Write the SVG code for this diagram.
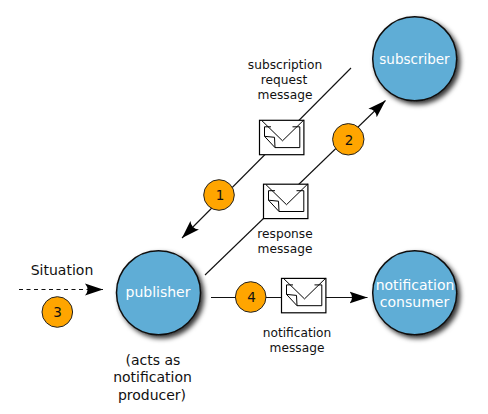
<svg xmlns="http://www.w3.org/2000/svg" width="488" height="414" viewBox="0 0 488 414">
<style>
text{font-family:"DejaVu Sans",sans-serif;text-anchor:middle}
.lbl{font-size:12.2px;fill:#111}
.big{font-size:14px;fill:#111}
.node{fill:#5fadd6;stroke:#111;stroke-width:1.5;filter:url(#sh)}
.nt{font-size:14px;fill:#fff}
.badge{fill:#ffa500;stroke:#222;stroke-width:1}
.bt{font-size:13.500px;fill:#111}
.ln{fill:none;stroke:#111;stroke-width:1.1}
.env{fill:#fff;stroke:#000;stroke-width:1.2}
.envl{fill:none;stroke:#000;stroke-width:1}
</style>
<defs>
<filter id="sh" x="-30%" y="-30%" width="160%" height="160%"><feDropShadow dx="3" dy="3" stdDeviation="2.500" flood-color="#000" flood-opacity="0.8"/></filter>
<marker id="arr" markerUnits="userSpaceOnUse" markerWidth="24" markerHeight="16" refX="18" refY="8" orient="auto"><path d="M0,2 L18,8 L0,14 Q5,8 0,2Z" fill="#000"/></marker>
<g id="envelope">
<rect class="env" x="0" y="0" width="44.4" height="34.4"/>
<path class="envl" d="M11.5,6.500 H5 V16 L15.500,27.300 H40.300 V6.500 H33 M5,16 L15,17 L15.500,27.300"/>
<path class="envl" d="M2.500,0.500 L23,20.500 L44,0"/>
</g>
</defs>
<g id="connectors">
<line class="ln" x1="351" y1="68" x2="182" y2="238" marker-end="url(#arr)"/>
<line class="ln" x1="205" y1="275" x2="385.500" y2="100.500" marker-end="url(#arr)"/>
<line class="ln" x1="211" y1="297.500" x2="367.500" y2="297.500" marker-end="url(#arr)"/>
<line class="ln" x1="19" y1="289.500" x2="103" y2="289.500" stroke-dasharray="4 3.500" marker-end="url(#arr)"/>
</g>
<g id="subscriber"><circle class="node" cx="414.700" cy="58.800" r="42"/><text class="nt" x="414.500" y="64" style="font-size:13.500px">subscriber</text></g>
<g id="publisher"><circle class="node" cx="158.500" cy="292.800" r="42"/><text class="nt" x="158" y="297">publisher</text></g>
<g id="consumer"><circle class="node" cx="414.700" cy="292.800" r="42"/><text class="nt" x="415" y="290">notification</text><text class="nt" x="414.500" y="307">consumer</text></g>
<g id="msg1"><use href="#envelope" x="259.500" y="120.300"/><text class="lbl" x="285" y="69">subscription</text><text class="lbl" x="284" y="84">request</text><text class="lbl" x="285" y="99">message</text></g>
<g id="msg2"><use href="#envelope" x="263.500" y="184.200"/><text class="lbl" x="285" y="238">response</text><text class="lbl" x="285" y="253">message</text></g>
<g id="msg4"><use href="#envelope" x="281.500" y="278.400"/><text class="lbl" x="297" y="337">notification</text><text class="lbl" x="297" y="352">message</text></g>
<g id="situation"><text class="big" x="62" y="275">Situation</text></g>
<g id="note"><text class="big" x="153" y="365">(acts as</text><text class="big" x="152.500" y="382">notification</text><text class="big" x="152" y="400">producer)</text></g>
<g id="b1"><circle class="badge" cx="219" cy="195" r="15.300"/><text class="bt" x="220" y="200">1</text></g>
<g id="b2"><circle class="badge" cx="348.300" cy="139.300" r="15.700"/><text class="bt" x="349" y="144.500">2</text></g>
<g id="b3"><circle class="badge" cx="57.300" cy="312" r="15.300"/><text class="bt" x="57.500" y="317">3</text></g>
<g id="b4"><circle class="badge" cx="250.700" cy="297" r="15.300"/><text class="bt" x="251.500" y="302">4</text></g>
</svg>
